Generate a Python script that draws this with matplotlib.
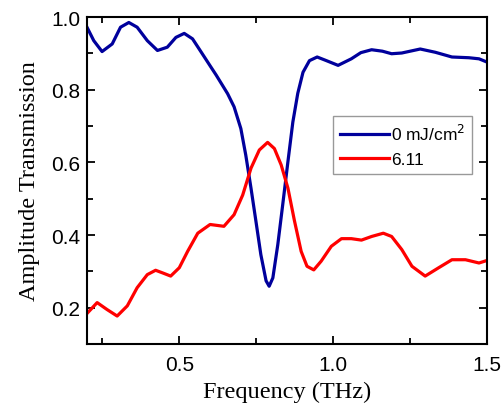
import numpy as np
import matplotlib.pyplot as plt

freq_0 = [0.200, 0.222, 0.249, 0.282, 0.309, 0.336, 0.363, 0.396, 0.429, 0.461,
          0.489, 0.516, 0.543, 0.570, 0.603, 0.620, 0.657, 0.678, 0.700, 0.716,
          0.733, 0.749, 0.765, 0.782, 0.792, 0.804, 0.820, 0.836, 0.853, 0.869,
          0.885, 0.902, 0.923, 0.948, 0.978, 1.016, 1.059, 1.090, 1.125, 1.160,
          1.190, 1.223, 1.283, 1.332, 1.386, 1.441, 1.474, 1.500]
trans_0 = [0.972, 0.935, 0.905, 0.926, 0.972, 0.985, 0.972, 0.935, 0.908, 0.917,
           0.944, 0.955, 0.940, 0.905, 0.862, 0.840, 0.789, 0.753, 0.693, 0.620,
           0.529, 0.438, 0.346, 0.274, 0.259, 0.282, 0.373, 0.483, 0.602, 0.711,
           0.790, 0.848, 0.880, 0.890, 0.880, 0.867, 0.885, 0.902, 0.910, 0.906,
           0.899, 0.901, 0.912, 0.903, 0.890, 0.888, 0.885, 0.876]

freq_611 = [0.200, 0.233, 0.265, 0.298, 0.331, 0.363, 0.396, 0.423, 0.448, 0.472,
            0.500, 0.527, 0.560, 0.600, 0.645, 0.678, 0.706, 0.733, 0.760, 0.787,
            0.809, 0.831, 0.853, 0.874, 0.896, 0.915, 0.937, 0.961, 0.994, 1.027,
            1.059, 1.092, 1.125, 1.163, 1.190, 1.223, 1.256, 1.299, 1.343, 1.386,
            1.430, 1.474, 1.500]
trans_611 = [0.184, 0.214, 0.195, 0.177, 0.205, 0.255, 0.291, 0.303, 0.295, 0.287,
             0.310, 0.355, 0.405, 0.429, 0.424, 0.456, 0.510, 0.584, 0.634, 0.655,
             0.638, 0.593, 0.529, 0.440, 0.355, 0.314, 0.304, 0.328, 0.369, 0.390,
             0.390, 0.386, 0.396, 0.405, 0.396, 0.360, 0.314, 0.287, 0.310, 0.332,
             0.332, 0.323, 0.330]

fig = plt.figure(figsize=(5.04, 4.10), dpi=100)
ax = fig.add_axes([0.1726, 0.1585, 0.7937, 0.7975])

ax.plot(freq_0, trans_0, color="#00009c", lw=2.3, solid_joinstyle="round",
        label="0 mJ/cm$^2$")
ax.plot(freq_611, trans_611, color="#ff0000", lw=2.3, solid_joinstyle="round",
        label="6.11")

ax.set_xlim(0.2, 1.5)
ax.set_ylim(0.1, 1.0)
ax.set_xticks([0.5, 1.0, 1.5])
ax.set_xticks([0.25, 0.75, 1.25], minor=True)
ax.set_yticks([0.2, 0.4, 0.6, 0.8, 1.0])
ax.set_yticks([0.3, 0.5, 0.7, 0.9], minor=True)

ax.tick_params(which="both", direction="in", top=True, right=True, width=1.3,
               labelsize=15)
ax.tick_params(axis="x", pad=8)
ax.tick_params(axis="y", pad=5)
ax.tick_params(which="major", length=6)
ax.tick_params(which="minor", length=4)
for lab in ax.get_xticklabels() + ax.get_yticklabels():
    lab.set_family("Liberation Sans")
for s in ax.spines.values():
    s.set_linewidth(1.5)

ax.set_xlabel("Frequency (THz)", family="Liberation Serif", fontsize=17.5, labelpad=5)
ax.set_ylabel("Amplitude Transmission", family="Liberation Serif", fontsize=17.5, labelpad=8)

leg = ax.legend(loc="upper right", bbox_to_anchor=(0.9625, 0.697), borderaxespad=0,
                fancybox=False, edgecolor="#808080", handlelength=2.8,
                handletextpad=0.1, prop={"family": "Liberation Sans", "size": 12.5})
leg.get_frame().set_linewidth(1.0)

fig.savefig("out.png", dpi=100)
